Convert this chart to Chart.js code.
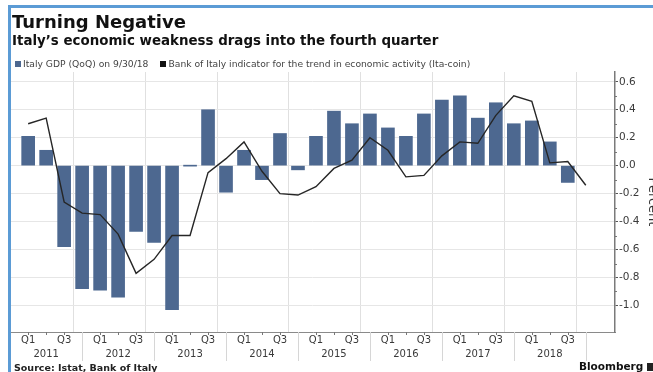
<!DOCTYPE html>
<html>
<head>
<meta charset="utf-8">
<script src="https://cdn.jsdelivr.net/npm/chart.js@4.4.1/dist/chart.umd.min.js"></script>
<style>
  body { margin: 0; width: 653px; height: 372px; overflow: hidden; background: #fff; position: relative; font-family: "DejaVu Sans", sans-serif; }
  #chart { position: absolute; left: 0; top: 0; }
  .txt { position: absolute; white-space: nowrap; line-height: 1; }
  #title { left: 12px; top: 13px; font-size: 18px; font-weight: bold; color: #111; }
  #subtitle { left: 12px; top: 34px; font-size: 13.4px; font-weight: bold; color: #111; }
  #legend { left: 15px; top: 59px; font-size: 9.2px; color: #444; }
  #legend span.box { display: inline-block; width: 6px; height: 6px; margin-right: 2px; vertical-align: 0px; }
  #legend span.item { margin-right: 12px; }
  #source { left: 14px; top: 363px; font-size: 9.5px; font-weight: bold; color: #222; }
  #brand { left: 579px; top: 361px; font-size: 10.5px; font-weight: bold; color: #111; }
  #brand span { display: inline-block; width: 7px; height: 8px; background: #222; margin-left: 4px; vertical-align: -1px; }
  #frame { position: absolute; left: 8px; top: 5px; width: 700px; height: 400px; border-left: 3px solid #5b9bd5; border-top: 3px solid #5b9bd5; }
</style>
</head>
<body>
<canvas id="chart" width="660" height="372"></canvas>
<div class="txt" id="title">Turning Negative</div>
<div class="txt" id="subtitle">Italy’s economic weakness drags into the fourth quarter</div>
<div class="txt" id="legend"><span class="item"><span class="box" style="background:#4d6890"></span>Italy GDP (QoQ) on 9/30/18</span><span class="item"><span class="box" style="background:#111"></span>Bank of Italy indicator for the trend in economic activity (Ita-coin)</span></div>
<div class="txt" id="source">Source: Istat, Bank of Italy</div>
<div class="txt" id="brand">Bloomberg<span></span></div>
<div id="frame"></div>
<script>
// quarters 2011 Q1 .. 2018 Q4
let years = [2011, 2012, 2013, 2014, 2015, 2016, 2017, 2018];
let quarterNames = ['Q1', 'Q2', 'Q3', 'Q4'];

// Italy GDP, quarter on quarter %, (2018 Q4 not out yet)
let gdp = [0.21, 0.11, -0.58, -0.88,
           -0.89, -0.94, -0.47, -0.55,
           -1.03, 0.00, 0.40, -0.19,
           0.11, -0.10, 0.23, -0.03,
           0.21, 0.39, 0.30, 0.37,
           0.27, 0.21, 0.37, 0.47,
           0.50, 0.34, 0.45, 0.30,
           0.32, 0.17, -0.12, null];

// Ita-coin indicator
let itaCoin = [0.30, 0.34, -0.26, -0.34,
               -0.35, -0.49, -0.77, -0.67,
               -0.50, -0.50, -0.05, 0.05,
               0.17, -0.04, -0.20, -0.21,
               -0.15, -0.02, 0.04, 0.20,
               0.11, -0.08, -0.07, 0.07,
               0.17, 0.16, 0.36, 0.50,
               0.46, 0.02, 0.03, -0.14];

let yTicks = [0.6, 0.4, 0.2, 0.0, -0.2, -0.4, -0.6, -0.8, -1.0];

// each point sits at the end of its quarter: 1 = end of 2011 Q1
let quarterEnds = [];
years.forEach((yr, i) => quarterNames.forEach((q, j) => quarterEnds.push(i * 4 + j + 1)));

function quarterLabel(v) {
    let q = (v - 1) % 4;
    let yr = years[Math.floor((v - 1) / 4)];
    if (q === 0) return 'Q1';
    if (q === 2) return 'Q3';
    if (q === 1) return ['', String(yr)];   // mid-year -> year on second line
    return '';
}

let axisMarks = {
    id: 'axisMarks',
    afterDraw(chart) {
        let ctx = chart.ctx;
        let area = chart.chartArea;
        let x = chart.scales.x;
        let y = chart.scales.y;
        ctx.save();
        ctx.lineWidth = 1;
        x.ticks.forEach(t => {
            let px = Math.round(x.getPixelForValue(t.value)) + 0.5;
            ctx.beginPath();
            if (t.value % 4 === 0) {
                ctx.strokeStyle = '#d6d6d6';
                ctx.moveTo(px, area.bottom);
                ctx.lineTo(px, area.bottom + 29);
            } else {
                ctx.strokeStyle = '#777';
                ctx.moveTo(px, area.bottom);
                ctx.lineTo(px, area.bottom + 3);
            }
            ctx.stroke();
        });
        // minor ticks between the labelled values
        ctx.strokeStyle = '#777';
        for (let i = 0; i < yTicks.length - 1; i++) {
            let py = Math.round(y.getPixelForValue((yTicks[i] + yTicks[i + 1]) / 2)) + 0.5;
            ctx.beginPath();
            ctx.moveTo(area.right, py);
            ctx.lineTo(area.right + 2, py);
            ctx.stroke();
        }
        ctx.restore();
    }
};

let chart = new Chart(document.getElementById('chart'), {
    type: 'bar',
    data: {
        datasets: [{
            type: 'line',
            label: 'Bank of Italy indicator for the trend in economic activity (Ita-coin)',
            data: quarterEnds.map((q, i) => ({x: q, y: itaCoin[i]})),
            borderColor: '#262626',
            borderWidth: 1.4,
            pointRadius: 0,
            tension: 0,
            order: 0
        }, {
            label: 'Italy GDP (QoQ) on 9/30/18',
            data: quarterEnds.map((q, i) => ({x: q, y: gdp[i]})),
            backgroundColor: '#4d6890',
            barThickness: 13,
            minBarLength: 1,
            order: 1
        }]
    },
    options: {
        responsive: false,
        animation: false,
        layout: { padding: { left: 11, top: 72, right: 0, bottom: 0 } },
        plugins: { legend: { display: false }, tooltip: { enabled: false } },
        scales: {
            x: {
                type: 'linear',
                min: 0.57,
                max: 33.1,
                afterBuildTicks: s => { s.ticks = quarterEnds.map(v => ({value: v})); },
                afterFit: s => { s.height = 40; },
                grid: {
                    color: c => (c.tick && c.tick.value % 4 === 0) ? '#e0e0e0' : 'rgba(0,0,0,0)',
                    drawTicks: false
                },
                border: { display: true, color: '#8a8a8a', width: 1 },
                ticks: {
                    autoSkip: false,
                    maxRotation: 0,
                    padding: 1,
                    color: '#3a3a3a',
                    font: { family: 'DejaVu Sans', size: 10, lineHeight: 1.4 },
                    callback: v => quarterLabel(v)
                }
            },
            y: {
                position: 'right',
                min: -1.19,
                max: 0.67,
                afterBuildTicks: s => { s.ticks = yTicks.map(v => ({value: v})); },
                afterFit: s => { s.width = 45; },
                grid: { color: '#e6e6e6', tickLength: 3, tickColor: '#555' },
                border: { display: true, color: '#7a7a7a', width: 1.5 },
                ticks: {
                    padding: 1,
                    color: '#3a3a3a',
                    font: { family: 'DejaVu Sans', size: 10.5 },
                    callback: v => v.toFixed(1)
                },
                title: {
                    display: true,
                    text: 'Percent',
                    color: '#333',
                    padding: 0,
                    font: { family: 'DejaVu Sans', size: 13 }
                }
            }
        }
    },
    plugins: [axisMarks]
});
</script>
</body>
</html>
